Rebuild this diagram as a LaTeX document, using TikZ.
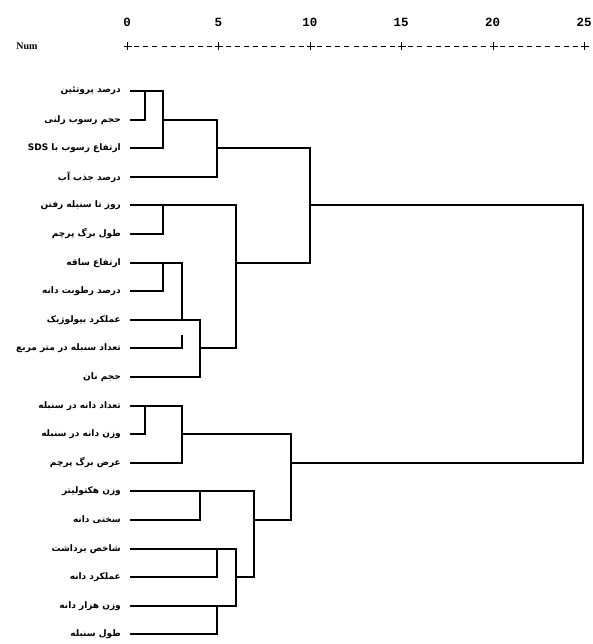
\documentclass[tikz,border=0pt]{standalone}
\usepackage{fontspec}
\newfontfamily\fa[Script=Arabic]{DejaVu Sans}
\newfontfamily\monof{Liberation Mono}
\newfontfamily\serf{Liberation Serif}
\TeXXeTstate=1
\begin{document}
\begin{tikzpicture}[x=1pt,y=-1pt,
  lab/.style={anchor=east, inner sep=0pt, font=\fa\bfseries\fontsize{9}{10}\selectfont},
  tick/.style={font=\monof\bfseries\fontsize{12.5}{13}\selectfont, inner sep=0pt},
  link/.style={line width=2pt, line cap=rect},
  axis/.style={line width=1pt}]
\fill[white] (0,0) rectangle (593,644);
\useasboundingbox (0,0) rectangle (593,644);

% axis
\node[font=\serf\bfseries\fontsize{10}{11}\selectfont, inner sep=0pt] (num) at (27,46) {Num};
\foreach \v in {0,5,...,25} {
  \coordinate (t\v) at ({round(127+18.28*\v)+0.5},46.5);
  \node[tick] (n\v) at ({127+18.28*\v},22) {\v};
  \draw[axis] (t\v) ++(-4,0) -- ++(8,0);
  \draw[axis] (t\v) ++(0,-4) -- ++(0,8);
}
\draw[axis, dash pattern=on 5pt off 4.14pt, dash phase=2.5pt] (t0) -- (t25);

% columns
\coordinate (ca) at (145,0);
\coordinate (cb) at (163,0);
\coordinate (cc) at (182,0);
\coordinate (cd) at (200,0);
\coordinate (ce) at (217,0);
\coordinate (cf) at (236,0);
\coordinate (cg) at (254,0);
\coordinate (ch) at (291,0);
\coordinate (ck) at (310,0);
\coordinate (cr) at (583,0);

% leaves
\foreach \i/\t in {
  1/{درصد پروتئین},
  2/{حجم رسوب زلنی},
  3/{ارتفاع رسوب با \beginL SDS\endL},
  4/{درصد جذب آب},
  5/{روز تا سنبله رفتن},
  6/{طول برگ پرچم},
  7/{ارتفاع ساقه},
  8/{درصد رطوبت دانه},
  9/{عملکرد بیولوژیک},
  10/{تعداد سنبله در متر مربع},
  11/{حجم نان},
  12/{تعداد دانه در سنبله},
  13/{وزن دانه در سنبله},
  14/{عرض برگ پرچم},
  15/{وزن هکتولیتر},
  16/{سختی دانه},
  17/{شاخص برداشت},
  18/{عملکرد دانه},
  19/{وزن هزار دانه},
  20/{طول سنبله}} {
  \pgfmathsetmacro\yy{round(91+28.6*(\i-1))}
  \coordinate (s\i) at (131,\yy);
  \node[lab] (l\i) at (121,\yy) {\beginR\t\endR};
}

\foreach \i/\c in {1/b,2/a,3/b,4/e,5/f,6/b,7/c,8/b,9/d,10/c,
                   11/d,12/c,13/a,14/c,15/g,16/d,17/f,18/e,19/f,20/e}
  \draw[link] (s\i) -- (c\c |- s\i);

% upper cluster
\draw[link] (ca |- s1) -- (ca |- s2);
\draw[link] (cb |- s1) -- (cb |- s3);
\draw[link] (cb |- s2) -- (ce |- s2) -- (ce |- s4);
\draw[link] (ce |- s3) -- (ck |- s3) -- (ck |- s7);
\draw[link] (cb |- s5) -- (cb |- s6);
\draw[link] (cb |- s7) -- (cb |- s8);
\draw[link] (cc |- s7) -- (cc |- s9);
\draw[link] (cc |- s10) -- ++(0,-12);
\draw[link] (cd |- s9) -- (cd |- s11);
\draw[link] (cd |- s10) -- (cf |- s10);
\draw[link] (cf |- s5) -- (cf |- s10);
\draw[link] (cf |- s7) -- (ck |- s7);
\draw[link] (ck |- s5) -- (cr |- s5) -- (cr |- s14) -- (ch |- s14);

% lower cluster
\draw[link] (ca |- s12) -- (ca |- s13);
\draw[link] (cc |- s12) -- (cc |- s14);
\draw[link] (cc |- s13) -- (ch |- s13) -- (ch |- s16);
\draw[link] (cd |- s15) -- (cd |- s16);
\draw[link] (cg |- s15) -- (cg |- s18);
\draw[link] (cg |- s16) -- (ch |- s16);
\draw[link] (ce |- s17) -- (ce |- s18);
\draw[link] (cf |- s17) -- (cf |- s19);
\draw[link] (ce |- s19) -- (ce |- s20);
\draw[link] (cf |- s18) -- (cg |- s18);
\end{tikzpicture}
\end{document}
